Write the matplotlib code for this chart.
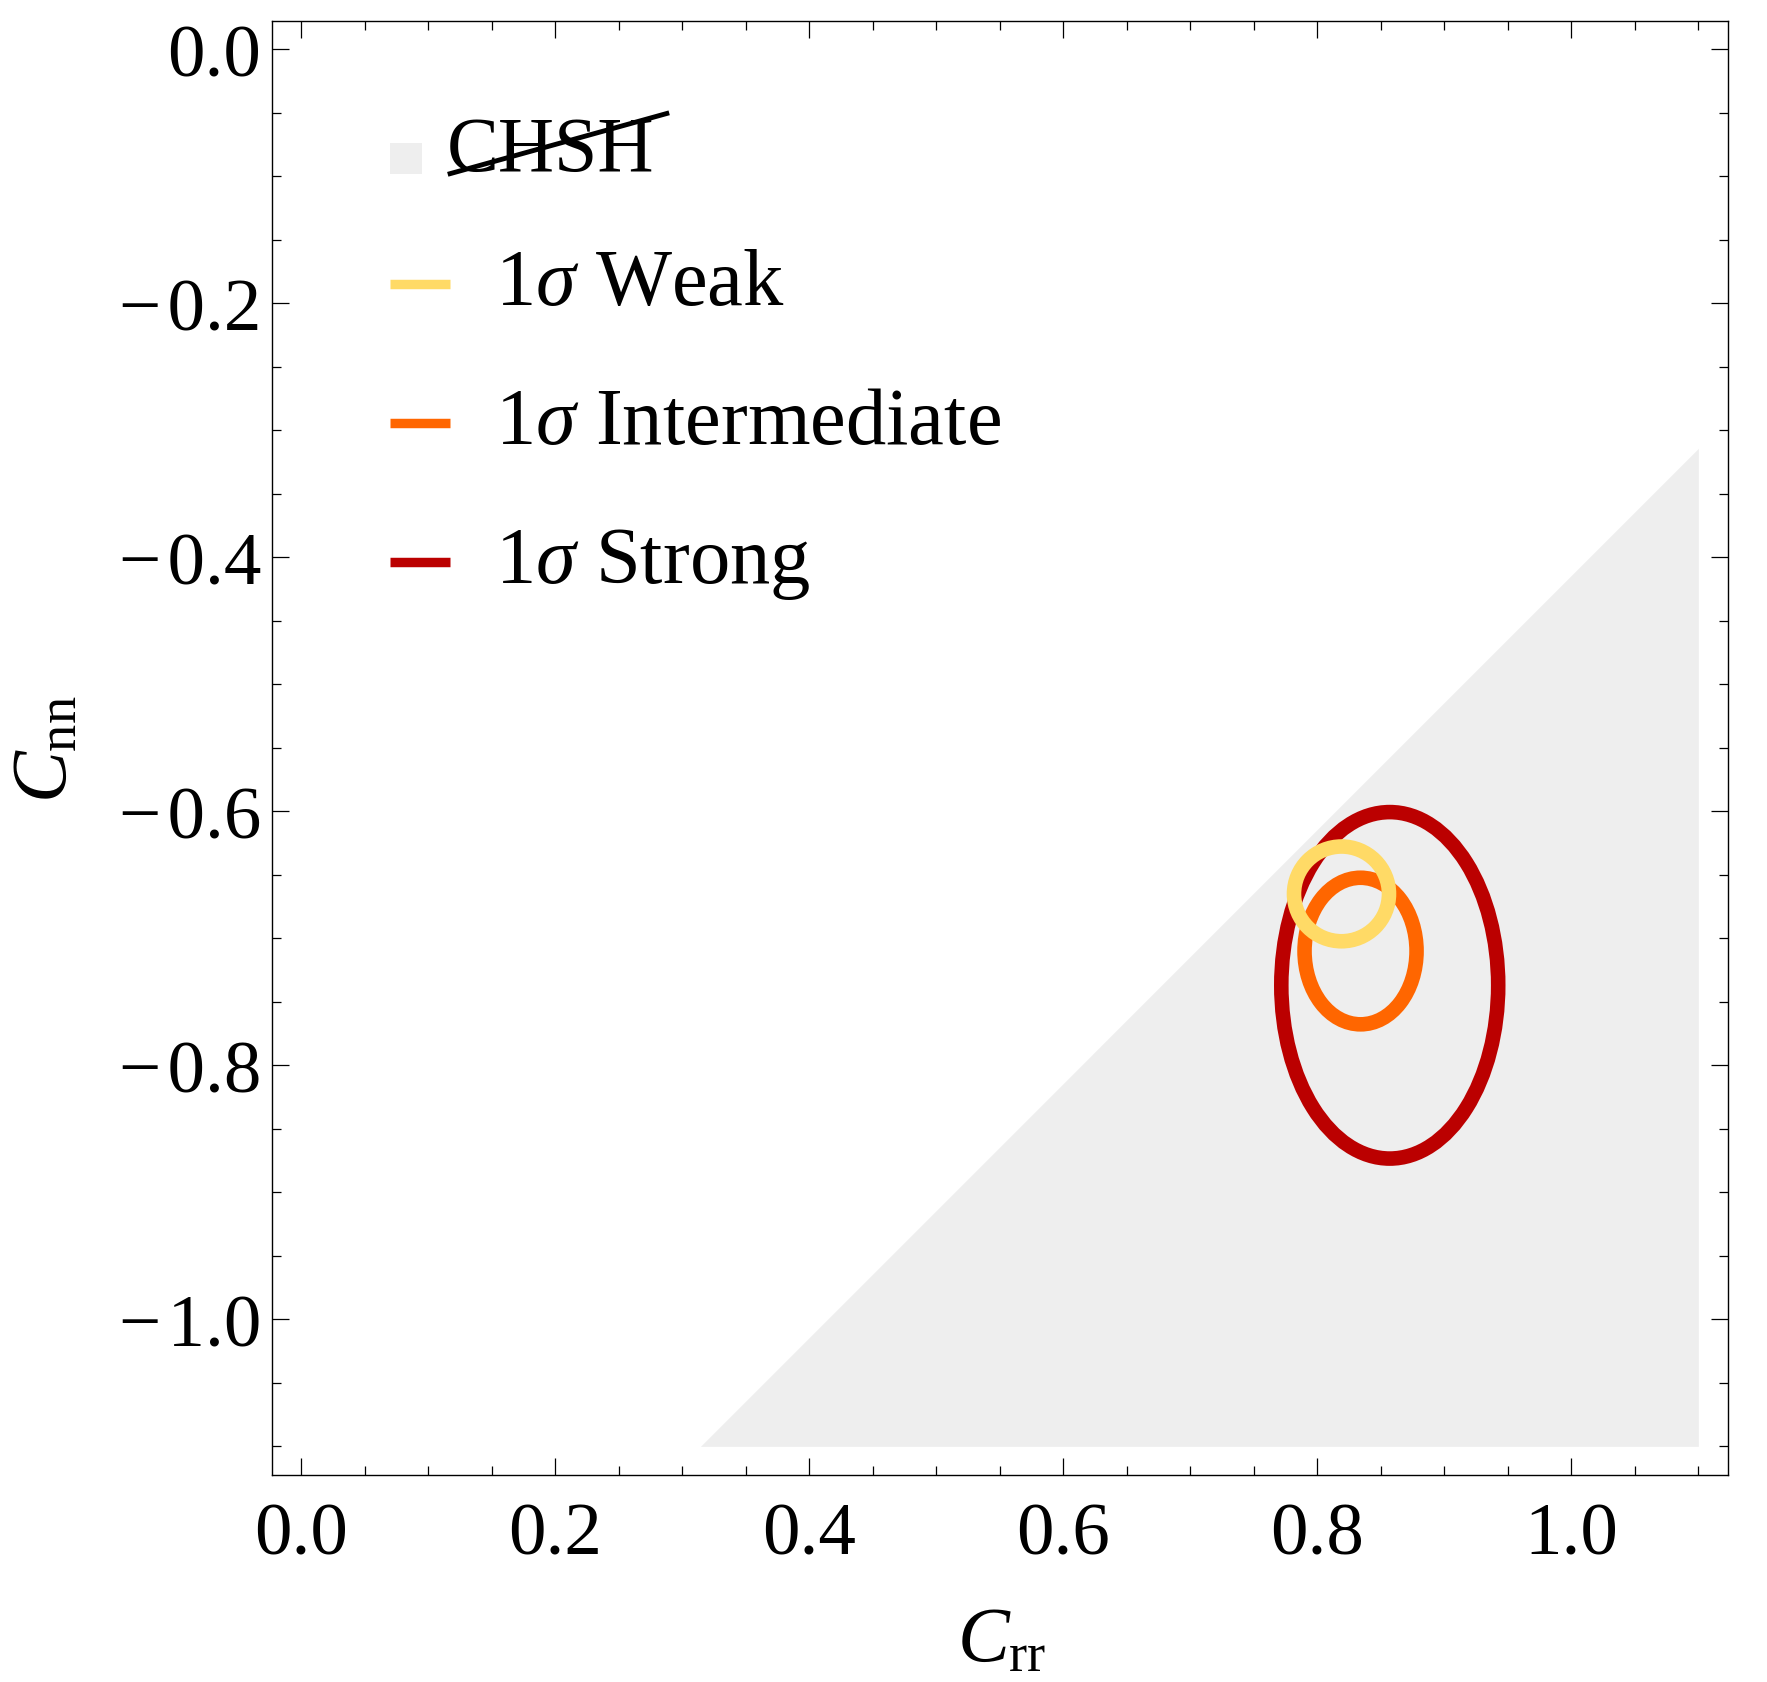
import numpy as np
import matplotlib
matplotlib.use('Agg')
import matplotlib.pyplot as plt
from matplotlib.patches import Ellipse, Rectangle, Patch
from matplotlib.lines import Line2D
from matplotlib.legend_handler import HandlerPatch
from matplotlib.ticker import MultipleLocator

plt.rcParams['font.family'] = ['Liberation Serif', 'DejaVu Serif']
plt.rcParams['mathtext.fontset'] = 'custom'
plt.rcParams['mathtext.rm'] = 'Liberation Serif'
plt.rcParams['mathtext.it'] = 'Liberation Serif:italic'
plt.rcParams['mathtext.bf'] = 'Liberation Serif:bold'

# ---------------- data ----------------
scenarios = ['Weak', 'Intermediate', 'Strong']
center_crr = [0.819, 0.834, 0.857]
center_cnn = [-0.665, -0.710, -0.737]
half_width_crr = [0.0374, 0.0441, 0.0854]
half_height_cnn = [0.0373, 0.0577, 0.1364]
colors = ['#FFDA66', '#FF6600', '#BB0000']

region_bound = 1.1
chsh_limit = np.sqrt(2)

x_ticks = [0.0, 0.2, 0.4, 0.6, 0.8, 1.0]
x_tick_labels = ['0.0', '0.2', '0.4', '0.6', '0.8', '1.0']
y_ticks = [0.0, -0.2, -0.4, -0.6, -0.8, -1.0]
y_tick_labels = ['0.0', '\u2212\u200a0.2', '\u2212\u200a0.4', '\u2212\u200a0.6',
                 '\u2212\u200a0.8', '\u2212\u200a1.0']

# ---------------- figure ----------------
fig = plt.figure(figsize=(17.67, 16.83), dpi=100)
ax = fig.add_axes([0.1541, 0.1228, 0.8238, 0.8643])

crr = np.linspace(chsh_limit - region_bound, region_bound, 400)
ax.fill_between(crr, -region_bound, crr - chsh_limit, color='#EEEEEE', lw=0, zorder=1)

handles = []
for i in range(len(scenarios)):
    e = Ellipse((center_crr[i], center_cnn[i]), 2 * half_width_crr[i], 2 * half_height_cnn[i],
                fill=False, edgecolor=colors[i], lw=10.5, zorder=5 - i)
    ax.add_patch(e)
    handles.append(Line2D([], [], color=colors[i], lw=6.8, solid_capstyle='butt'))

ax.set_xlim(-0.0229, 1.1233)
ax.set_ylim(-1.1228, 0.0225)

ax.set_xticks(x_ticks)
ax.set_xticklabels(x_tick_labels)
ax.set_yticks(y_ticks)
ax.set_yticklabels(y_tick_labels)
ax.xaxis.set_minor_locator(MultipleLocator(0.05))
ax.yaxis.set_minor_locator(MultipleLocator(0.05))
ax.tick_params(which='both', direction='in', top=True, right=True, width=0.9)
ax.tick_params(which='major', length=11.9, labelsize=54)
ax.tick_params(axis='x', which='major', pad=19)
ax.tick_params(axis='y', which='major', pad=8)
ax.tick_params(which='minor', length=6.8)
for s in ax.spines.values():
    s.set_linewidth(1.0)

ax.set_xlabel(r'$C_{\mathrm{rr}}$', fontsize=56)
ax.set_ylabel(r'$C_{\mathrm{nn}}$', fontsize=56)
ax.xaxis.set_label_coords(0.501, -0.0899)
ax.yaxis.set_label_coords(-0.1296, 0.5)

# legend for the contours
legB = ax.legend(handles=handles, labels=[r'$1\sigma$ ' + s for s in scenarios],
                 loc='upper left', bbox_to_anchor=(0.0809, 0.8437), frameon=False,
                 borderpad=0, borderaxespad=0, handlelength=0.738, handleheight=0.017,
                 handletextpad=0.565, labelspacing=0.82, fontsize=58)
ax.add_artist(legB)


def square(legend, orig_handle, xdescent, ydescent, width, height, fontsize):
    return Rectangle((-xdescent, -ydescent - 0.064 * fontsize), width, 0.41 * fontsize)


legA = ax.legend(handles=[Patch(facecolor='#EEEEEE', edgecolor='none')], labels=['CHSH'],
                 loc='upper left', bbox_to_anchor=(0.0809, 0.9352), frameon=False,
                 borderpad=0, borderaxespad=0, handlelength=0.41, handleheight=0.7,
                 handletextpad=0.316, fontsize=56,
                 handler_map={Patch: HandlerPatch(patch_func=square)})

fig.canvas.draw()
txt = legA.get_texts()[0]
bb = txt.get_window_extent(fig.canvas.get_renderer())
W, H = fig.bbox.width, fig.bbox.height
x0 = bb.x0 + 0.006 * bb.width
y0 = bb.y0 + 0.17 * bb.height
x1 = bb.x0 + 1.073 * bb.width
y1 = bb.y0 + 1.03 * bb.height
fig.add_artist(Line2D([x0 / W, x1 / W], [y0 / H, y1 / H], transform=fig.transFigure,
                      color='black', lw=3.5, solid_capstyle='butt'))

fig.savefig('out.png', dpi=100)
